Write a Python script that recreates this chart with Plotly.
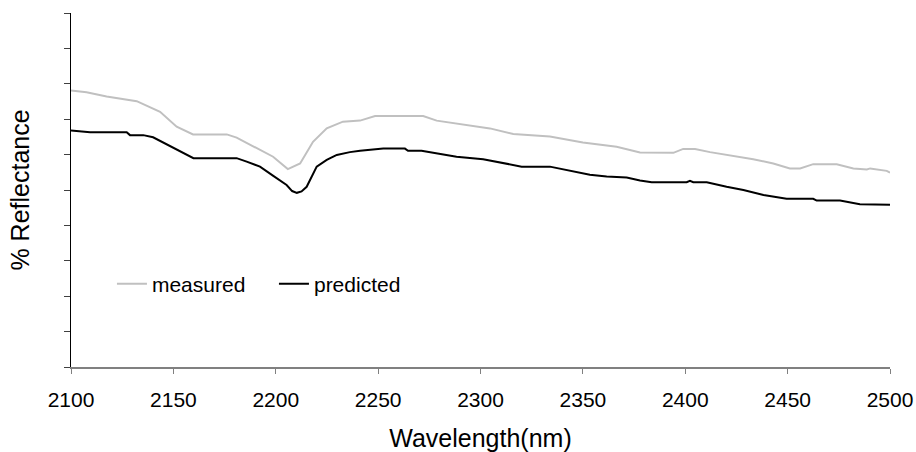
import plotly.graph_objects as go

# Wavelength (nm) and % reflectance
measured_wl = [2100, 2107.6, 2117.4, 2132.1, 2143.5, 2151.6, 2159.6, 2176.1, 2180.9, 2198.7,
               2205.9, 2211.9, 2218.2, 2224.9, 2232.8, 2241.2, 2248.5, 2272.0, 2278.6, 2290.0,
               2304.6, 2316.0, 2333.9, 2350.0, 2366.5, 2377.9, 2394.2, 2399.0, 2404.8, 2412.1,
               2420.3, 2433.2, 2443.0, 2451.1, 2456.1, 2462.5, 2474.0, 2482.1, 2488.7, 2490.3,
               2498.4, 2500.0]
measured_refl = [78.1, 77.6, 76.4, 75.1, 72.1, 67.9, 65.7, 65.7, 64.8, 59.4,
                 55.9, 57.5, 63.6, 67.4, 69.3, 69.6, 70.9, 70.9, 69.6, 68.6,
                 67.4, 65.8, 65.1, 63.4, 62.2, 60.6, 60.5, 61.6, 61.6, 60.7,
                 59.9, 58.7, 57.5, 56.1, 56.1, 57.3, 57.3, 56.1, 55.8, 56.1,
                 55.4, 54.9]

predicted_wl = [2100, 2109.3, 2127.2, 2128.8, 2135.3, 2140.1, 2159.8, 2180.9, 2185.8, 2192.3,
                2198.8, 2205.3, 2208.0, 2210.3, 2212.6, 2215.1, 2220.0, 2224.9, 2229.8, 2236.2,
                2241.2, 2252.5, 2263.1, 2264.6, 2271.2, 2280.2, 2288.3, 2301.3, 2312.8, 2320.1,
                2333.9, 2342.1, 2353.4, 2361.6, 2371.4, 2377.9, 2383.6, 2400.7, 2402.3, 2403.9,
                2410.5, 2420.2, 2428.4, 2438.2, 2449.5, 2462.5, 2464.2, 2475.6, 2485.3, 2500.0]
predicted_refl = [66.8, 66.3, 66.3, 65.5, 65.5, 64.9, 59.0, 59.0, 58.0, 56.6,
                  54.0, 51.4, 49.7, 49.2, 49.6, 50.9, 56.6, 58.5, 59.9, 60.7,
                  61.1, 61.7, 61.7, 61.1, 61.1, 60.1, 59.4, 58.7, 57.3, 56.6,
                  56.6, 55.6, 54.3, 53.8, 53.5, 52.7, 52.2, 52.2, 52.6, 52.2,
                  52.2, 50.9, 50.0, 48.6, 47.5, 47.5, 47.0, 47.0, 46.0, 45.8]

x_ticks = [2100, 2150, 2200, 2250, 2300, 2350, 2400, 2450, 2500]

FONT = "Liberation Sans, Arial, sans-serif"

fig = go.Figure()
fig.add_trace(go.Scatter(x=measured_wl, y=measured_refl, mode="lines", name="measured",
                         line=dict(color="#C0C0C0", width=2)))
fig.add_trace(go.Scatter(x=predicted_wl, y=predicted_refl, mode="lines", name="predicted",
                         line=dict(color="#000000", width=2)))

fig.update_layout(
    width=916, height=452,
    margin=dict(l=71, r=26, t=13, b=85),
    paper_bgcolor="white", plot_bgcolor="white",
    font=dict(family=FONT, size=21, color="#000000"),
    showlegend=True,
    legend=dict(x=0.05, y=0.234, xanchor="left", yanchor="middle", orientation="h",
                bgcolor="rgba(0,0,0,0)", font=dict(size=21), entrywidth=117,
                entrywidthmode="pixels"),
    xaxis=dict(range=[2100, 2500], tickvals=x_ticks, showgrid=False, zeroline=False,
               showline=True, linecolor="#808080", linewidth=2, ticks="outside",
               ticklen=5, tickcolor="#808080", tickwidth=1, ticklabelstandoff=8,
               automargin=False,
               title=dict(text="Wavelength(nm)", standoff=20), tickfont=dict(size=21)),
    yaxis=dict(range=[0, 100], dtick=10, showticklabels=False, showgrid=False, zeroline=False,
               showline=True, linecolor="#000000", linewidth=1, ticks="outside",
               ticklen=6, tickcolor="#404040", tickwidth=1, automargin=False,
               title=dict(text="% Reflectance", standoff=27)),
)

fig.write_html("out.html")
